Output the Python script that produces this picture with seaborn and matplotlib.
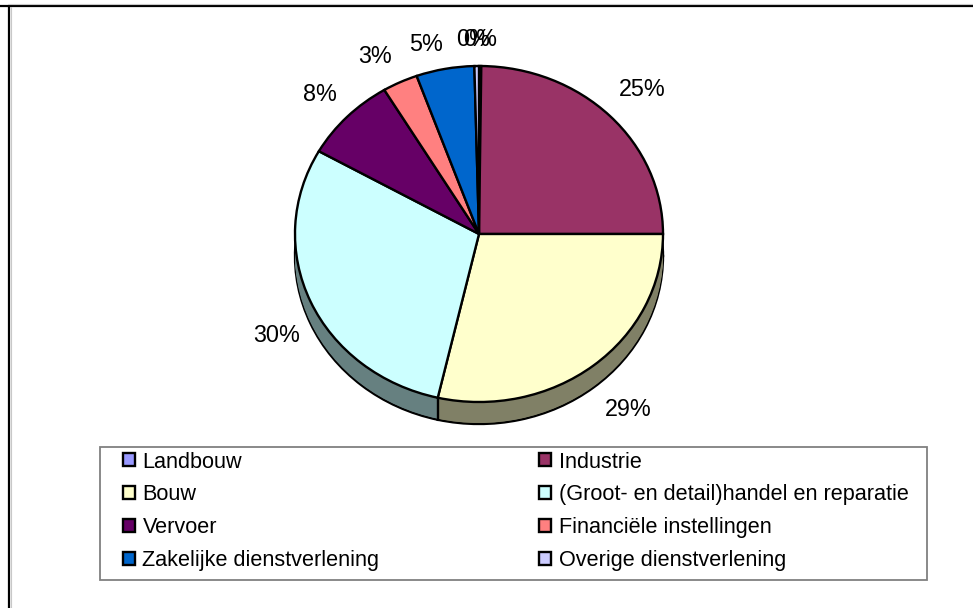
import numpy as np
import seaborn as sns
from matplotlib import pyplot as plt
from matplotlib.lines import Line2D
from matplotlib.patches import Patch, Rectangle

labels = ["Landbouw", "Industrie", "Bouw", "(Groot- en detail)handel en reparatie",
          "Vervoer", "Financiële instellingen", "Zakelijke dienstverlening",
          "Overige dienstverlening"]
values = [0.2, 24.8, 28.6, 29.6, 8.2, 3.1, 5.1, 0.4]
colors = ["#9999FF", "#993366", "#FFFFCC", "#CCFFFF", "#660066", "#FF8080", "#0066CC", "#CCCCFF"]

W, H = 973, 608
CX, CY, RX, RY = 479, 234, 184, 168   # pie centre and radii in pixels
DEPTH = 22 / RY

# how far the percent labels sit from the centre, per slice (x and y factor)
label_fx = [0.7, 1.25, 1.30, 1.20, 1.21, 1.32, 1.57, 2.7]
label_fy = [1.155, 1.22, 1.335, 1.50, 1.19, 1.17, 1.15, 1.155]

sns.set_theme(style="white", palette=colors)
plt.rcParams["font.family"] = ["Liberation Sans", "DejaVu Sans"]

fig = plt.figure(figsize=(W / 100, H / 100), dpi=100)
ax = fig.add_axes([0, 0, 1, 1])

dark = [tuple(c * 0.5 for c in rgb) for rgb in sns.color_palette(colors)]
start = 90

# extruded side of the pie
ax.pie(values, colors=dark, startangle=start, counterclock=False, center=(0, -DEPTH),
       wedgeprops=dict(edgecolor="black", linewidth=1.7))
for d in np.linspace(DEPTH, 0, 23)[1:]:
    ax.pie(values, colors=dark, startangle=start, counterclock=False, center=(0, -d),
           wedgeprops=dict(linewidth=0))

# vertical edges where a slice boundary falls on the front of the pie
bounds = np.cumsum(values) / np.sum(values) * 2 * np.pi
for b in bounds:
    if np.cos(b) < 0:
        ax.plot([np.sin(b)] * 2, [np.cos(b), np.cos(b) - DEPTH], color="black", lw=1.7, zorder=5)

wedges, _, autotexts = ax.pie(values, colors=colors, startangle=start, counterclock=False,
                              autopct="%1.0f%%", pctdistance=1.0,
                              wedgeprops=dict(edgecolor="black", linewidth=1.7),
                              textprops=dict(fontsize=16.8, color="black"))
for t, fx, fy in zip(autotexts, label_fx, label_fy):
    x, y = t.get_position()
    t.set_position((x * fx, y * fy))
    t.set_zorder(6)

ax.set_aspect("auto")
ax.set_xlim(-CX / RX, (W - CX) / RX)
ax.set_ylim((CY - H) / RY, CY / RY)

# chart border, only top and left fall inside the picture
for xs, ys, col, lw in [([8.9 / W, 8.9 / W], [0, 1 - 5.9 / H], "black", 1.6),
                        ([0, 1], [1 - 5.9 / H, 1 - 5.9 / H], "black", 1.6),
                        ([10.5 / W, 10.5 / W], [0, 1 - 7 / H], "#c8c8c8", 0.8),
                        ([8 / W, 1], [1 - 4.4 / H, 1 - 4.4 / H], "#c8c8c8", 0.8)]:
    fig.add_artist(Line2D(xs, ys, color=col, lw=lw, transform=fig.transFigure))

# legend box
fig.add_artist(Rectangle((99.5 / W, 1 - 579.5 / H), 827.5 / W, 133 / H, transform=fig.transFigure,
                         facecolor="white", edgecolor="#808080", lw=1.3, zorder=2))
handles = [Patch(facecolor=c, edgecolor="black", lw=1.7, label=l) for c, l in zip(colors, labels)]
handles = handles[::2] + handles[1::2]
leg = fig.legend(handles=handles, ncol=2, loc="upper left", bbox_to_anchor=(122.5 / W, 1 - 451.5 / H),
                 frameon=False, fontsize=15.6, borderpad=0, borderaxespad=0, labelcolor="black",
                 handlelength=0.56, handleheight=0.56, handletextpad=0.36,
                 labelspacing=0.55, columnspacing=7.38)
leg.set_zorder(3)

fig.savefig("out.png", dpi=100)
